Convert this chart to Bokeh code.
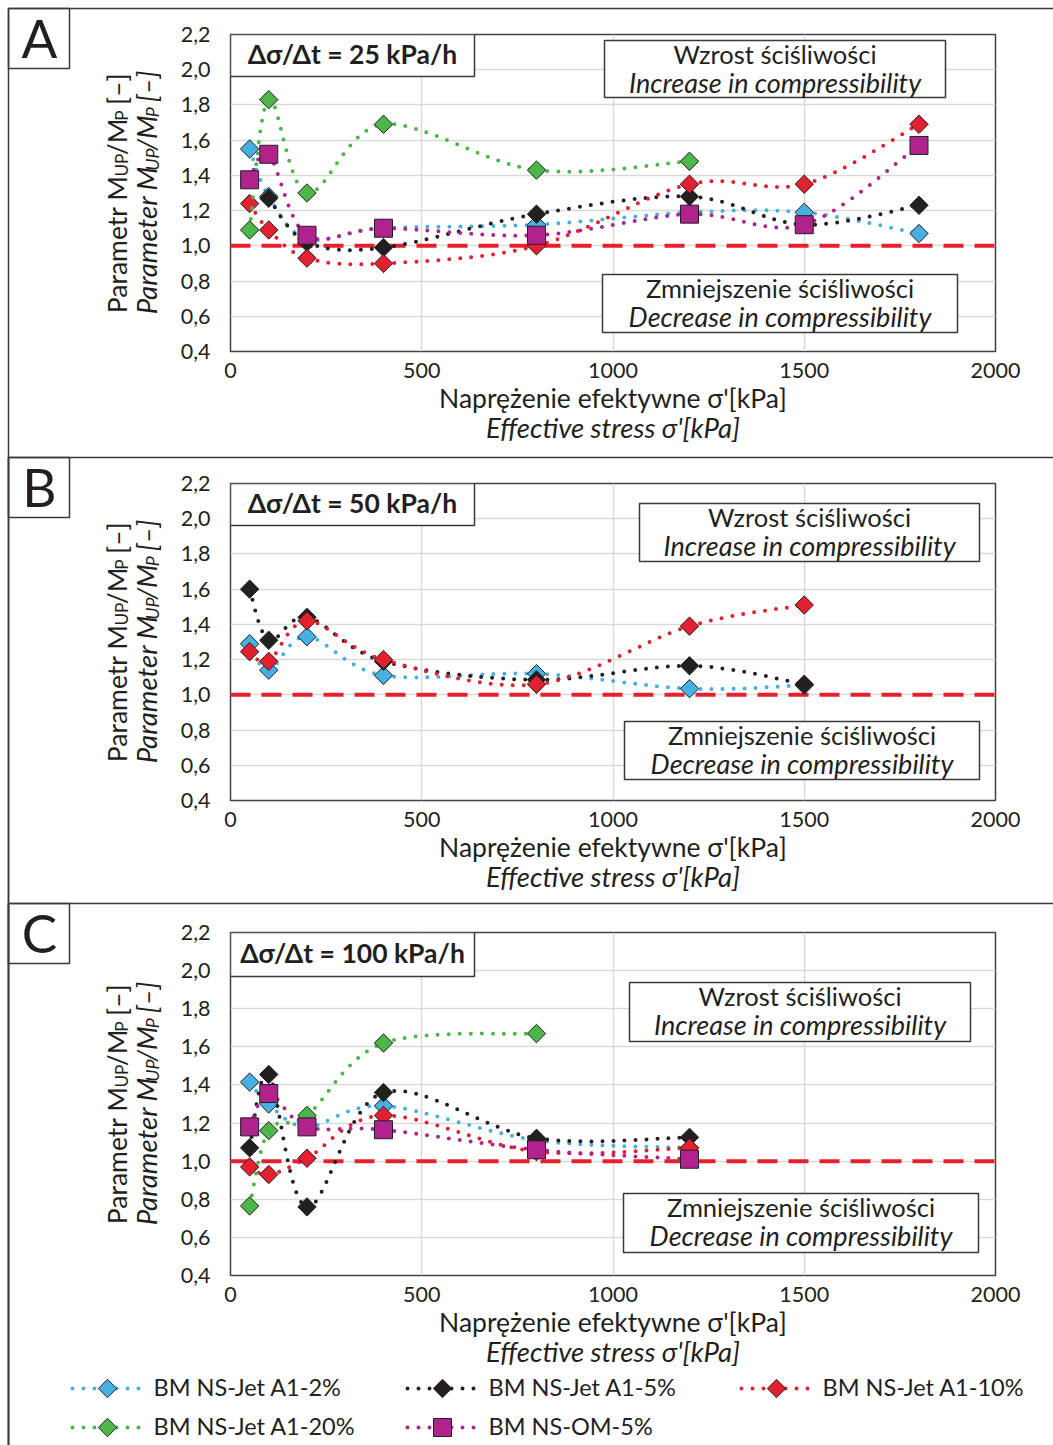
import numpy as np
from bokeh.plotting import figure
from bokeh.models import Range1d, FixedTicker, CustomJSTickFormatter, Span, BoxAnnotation, Label
from bokeh.layouts import column
from bokeh.embed import file_html
from bokeh.resources import INLINE

FONT = "Lato"
INK = "#231f20"
EDGE = "#3a3a3a"

# ---------------- data ----------------
series_names = ["BM NS-Jet A1-2%", "BM NS-Jet A1-5%", "BM NS-Jet A1-10%",
                "BM NS-Jet A1-20%", "BM NS-OM-5%"]
series_colors = ["#45b0e1", "#231f20", "#e3202f", "#4cb748", "#b0228c"]
series_markers = ["diamond", "diamond", "diamond", "diamond", "square"]

panel_letters = ["A", "B", "C"]
rate_labels = ["Δσ/Δt = 25 kPa/h", "Δσ/Δt = 50 kPa/h", "Δσ/Δt = 100 kPa/h"]
inc_text = ["Wzrost ściśliwości", "Increase in compressibility"]
dec_text = ["Zmniejszenie ściśliwości", "Decrease in compressibility"]
x_title = ["Naprężenie efektywne σ'[kPa]", "Effective stress σ'[kPa]"]

# Panel A: 25 kPa/h
a_stress = [50, 100, 200, 400, 800, 1200, 1500, 1800]
a_jet2 = [1.55, 1.28, 1.04, 1.10, 1.12, 1.19, 1.19, 1.07]
a_jet5_stress = [100, 200, 400, 800, 1200, 1500, 1800]
a_jet5 = [1.27, 1.02, 0.99, 1.18, 1.28, 1.12, 1.23]
a_jet10 = [1.24, 1.09, 0.93, 0.90, 1.00, 1.35, 1.35, 1.69]
a_jet20_stress = [50, 100, 200, 400, 800, 1200]
a_jet20 = [1.09, 1.83, 1.30, 1.69, 1.43, 1.48]
a_om5 = [1.375, 1.52, 1.06, 1.10, 1.06, 1.18, 1.12, 1.57]

# Panel B: 50 kPa/h
b_stress = [50, 100, 200, 400, 800, 1200, 1500]
b_jet2 = [1.29, 1.14, 1.33, 1.11, 1.12, 1.035, 1.055]
b_jet5 = [1.60, 1.31, 1.44, 1.19, 1.085, 1.165, 1.06]
b_jet10 = [1.245, 1.19, 1.42, 1.20, 1.06, 1.39, 1.51]

# Panel C: 100 kPa/h
c_stress = [50, 100, 200, 400, 800, 1200]
c_jet2 = [1.415, 1.30, 1.18, 1.29, 1.11, 1.07]
c_jet5 = [1.07, 1.455, 0.76, 1.36, 1.12, 1.125]
c_jet10 = [0.97, 0.93, 1.015, 1.24, 1.05, 1.07]
c_jet20_stress = [50, 100, 200, 400, 800]
c_jet20 = [0.765, 1.16, 1.24, 1.62, 1.67]
c_om5 = [1.18, 1.355, 1.18, 1.165, 1.06, 1.01]

x_ticks = [0, 500, 1000, 1500, 2000]
y_ticks = [0.4, 0.6, 0.8, 1.0, 1.2, 1.4, 1.6, 1.8, 2.0, 2.2]
reference_level = 1.0

# ---------------- layout (page pixels) ----------------
W, H = 1053, 1445
FR_L, FR_R = 230, 995
TICK = 21.5
TITLE_R, TITLE_I = 26.5, 27.5
BOX_R, BOX_I = 25.5, 27
RATEF = 26.5
LEGF = 23.5
DY = -2  # visual correction for 'middle' baseline
CAL = {' ': .226, 'P': .517, 'a': .479, 'r': .349, 'm': .799, 'e': .498, 't': .335,
       'M': .855, 'U': .653, '/': .386, '[': .325, ']': .325, '–': .498}
WF = {"normal": 1.055, "italic": 0.97}


def tw(s, size, style):
    return sum(CAL.get(c, .5) for c in s) * size * WF[style]


panels = [
    dict(series=[(0, a_stress, a_jet2), (1, a_jet5_stress, a_jet5), (2, a_stress, a_jet10),
                 (3, a_jet20_stress, a_jet20), (4, a_stress, a_om5)],
         top=0, h=457, T=34, B=351, rb=76, inc=(604, 945, 40, 97), dec=(602, 957, 274, 332)),
    dict(series=[(0, b_stress, b_jet2), (1, b_stress, b_jet5), (2, b_stress, b_jet10)],
         top=457, h=446, T=483, B=800, rb=525, inc=(639, 979, 503, 561), dec=(624, 979, 721, 779)),
    dict(series=[(0, c_stress, c_jet2), (1, c_stress, c_jet5), (2, c_stress, c_jet10),
                 (3, c_jet20_stress, c_jet20), (4, c_stress, c_om5)],
         top=903, h=542, T=932, B=1275, rb=976, inc=(629, 970, 982, 1041), dec=(623, 978, 1193, 1252)),
]


def smooth(xs, ys):
    x = np.asarray(xs, float)
    y = np.asarray(ys, float)
    n = len(x)
    d = {k: [] for k in ("x0", "y0", "x1", "y1", "cx0", "cy0", "cx1", "cy1")}
    for i in range(n - 1):
        im, ip = max(i - 1, 0), min(i + 2, n - 1)
        d["x0"].append(x[i]); d["y0"].append(y[i])
        d["x1"].append(x[i + 1]); d["y1"].append(y[i + 1])
        d["cx0"].append(x[i] + (x[i + 1] - x[im]) / 6)
        d["cy0"].append(y[i] + (y[i + 1] - y[im]) / 6)
        d["cx1"].append(x[i + 1] - (x[ip] - x[i]) / 6)
        d["cy1"].append(y[i + 1] - (y[ip] - y[i]) / 6)
    return d


def label(p, x, y, text, size, style="normal", align="center", baseline="middle", angle=0.0):
    p.add_layout(Label(x=x, y=y, text=text, text_font=FONT, text_font_size=f"{size}px",
                       text_font_style=style, text_color=INK, text_align=align,
                       text_baseline=baseline, angle=angle))


def box(p, l, r, t, b, fill=False, width=1.5):
    p.add_layout(BoxAnnotation(left=l, right=r, top=t, bottom=b,
                               fill_color="white", fill_alpha=1 if fill else 0,
                               line_color=EDGE, line_width=width, line_alpha=1))


def no_align(p):
    try:
        p.frame_align = False
    except Exception:
        pass


def add_marks(p, idx, xs, ys):
    col = series_colors[idx]
    if series_markers[idx] == "square":
        p.scatter(xs, ys, marker="square", size=18, fill_color=col, line_color=INK, line_width=1)
    else:
        p.scatter(xs, ys, marker="square", angle=np.pi / 4, size=13, fill_color=col,
                  line_color=INK, line_width=1)


def make_panel(k, cfg):
    top, h, T, B = cfg["top"], cfg["h"], cfg["T"], cfg["B"]
    xa, xb, ya, yb = x_ticks[0], x_ticks[-1], y_ticks[0], y_ticks[-1]
    p = figure(width=W, height=h, x_range=Range1d(xa, xb), y_range=Range1d(ya, yb),
               output_backend="svg", toolbar_location=None,
               min_border_left=FR_L, min_border_right=W - FR_R,
               min_border_top=T - top, min_border_bottom=top + h - B)
    no_align(p)
    p.background_fill_color = "white"
    p.border_fill_color = "white"
    fx = lambda px: xa + (px - FR_L) / (FR_R - FR_L) * (xb - xa)
    fy = lambda py: ya + (B - py) / (B - T) * (yb - ya)

    p.xaxis.ticker = FixedTicker(ticks=x_ticks)
    p.yaxis.ticker = FixedTicker(ticks=y_ticks)
    p.yaxis.formatter = CustomJSTickFormatter(code="return tick.toFixed(1).replace('.', ',');")
    for ax in (p.xaxis[0], p.yaxis[0]):
        ax.axis_line_color = None
        ax.major_tick_line_color = None
        ax.minor_tick_line_color = None
        ax.major_tick_out = 0
        ax.major_tick_in = 0
        ax.major_label_text_font = FONT
        ax.major_label_text_font_size = f"{TICK}px"
        ax.major_label_text_color = INK
    p.yaxis.major_label_standoff = 20
    p.xaxis.major_label_standoff = 11
    for g in (p.xgrid[0], p.ygrid[0]):
        g.grid_line_color = "#d9d9d9"
        g.grid_line_width = 1.5
    p.outline_line_color = "#404040"
    p.outline_line_width = 1.5

    p.add_layout(Span(location=reference_level, dimension="width", line_color="#e8202d",
                      line_width=4, line_dash="20 11", level="underlay"))

    for idx, xs, ys in cfg["series"]:
        p.bezier(source=smooth(xs, ys), x0="x0", y0="y0", x1="x1", y1="y1",
                 cx0="cx0", cy0="cy0", cx1="cx1", cy1="cy1",
                 line_color=series_colors[idx], line_width=4, line_dash="0 11", line_cap="round")
        add_marks(p, idx, xs, ys)

    # rate box
    box(p, xa, fx(474), yb, fy(cfg["rb"]), fill=True)
    label(p, fx(352), fy((T + cfg["rb"]) / 2 + DY), rate_labels[k], RATEF, style="bold")

    # increase / decrease boxes
    for (l, r, t, b), texts in ((cfg["inc"], inc_text), (cfg["dec"], dec_text)):
        box(p, fx(l), fx(r), fy(t), fy(b), fill=True)
        cx = (l + r) / 2
        label(p, fx(cx), fy(t + 15.5 + DY), texts[0], BOX_R)
        label(p, fx(cx), fy(t + 43.5 + DY), texts[1], BOX_I, style="italic")
    return p


figs = [make_panel(k, cfg) for k, cfg in enumerate(panels)]

# ---------------- overlay: frame lines, letters, axis titles, legend ----------------
ov = figure(width=W, height=H, x_range=Range1d(0, W), y_range=Range1d(H, 0),
            output_backend="svg", toolbar_location=None,
            x_axis_location=None, y_axis_location=None,
            min_border_left=0, min_border_right=0, min_border_top=0, min_border_bottom=0,
            styles={"position": "absolute", "left": "0px", "top": "0px"})
no_align(ov)
ov.grid.visible = False
ov.outline_line_color = None
ov.background_fill_alpha = 0
ov.border_fill_alpha = 0

box(ov, 8, 3000, 8, 3000)
for k, cfg in enumerate(panels):
    ptop = max(cfg["top"], 8)
    if k > 0:
        box(ov, 8, 3000, ptop, 3000)
    box(ov, 8, 69, ptop, ptop + 60)
    label(ov, 39, ptop + 29, panel_letters[k], 53)

    T, B = cfg["T"], cfg["B"]
    cxm = (FR_L + FR_R) / 2
    label(ov, cxm, B + 48 + DY, x_title[0], TITLE_R)
    label(ov, cxm, B + 78 + DY, x_title[1], TITLE_I, style="italic")

    cym = (T + B) / 2
    for cx_line, first, style, size in ((116, "Parametr M", "normal", TITLE_R),
                                        (145.5, "Parameter M", "italic", TITLE_I)):
        sp = tw(" ", size, style)
        pieces = [(first, 1.0, False, 0), ("UP", 0.65, True, 0), ("/M", 1.0, False, 0),
                  ("P", 0.65, True, 0), ("[–]", 1.0, False, sp)]
        widths = [tw(t, size * s, style) + g for t, s, _, g in pieces]
        pos = cym + sum(widths) / 2
        for (t, s, sub, g), w in zip(pieces, widths):
            bx = cx_line + (0.2 * size if sub else 0)
            label(ov, bx, pos - g, t, round(size * s, 1), style=style,
                  align="left", angle=np.pi / 2)
            pos -= w

col_x = [72, 407, 741]
row_y = [1388, 1427]
slots = [(0, 0), (1, 0), (2, 0), (0, 1), (1, 1)]
for idx, name in enumerate(series_names):
    c, r = slots[idx]
    x0, yy = col_x[c], row_y[r]
    ov.line([x0, x0 + 72], [yy, yy], line_color=series_colors[idx], line_width=4,
            line_dash="0 11", line_cap="round")
    add_marks(ov, idx, [x0 + 35], [yy])
    label(ov, x0 + 81, yy + DY, name, LEGF, align="left")

layout = column(*figs, ov, spacing=0)
open("out.html", "w").write(file_html(layout, INLINE))
